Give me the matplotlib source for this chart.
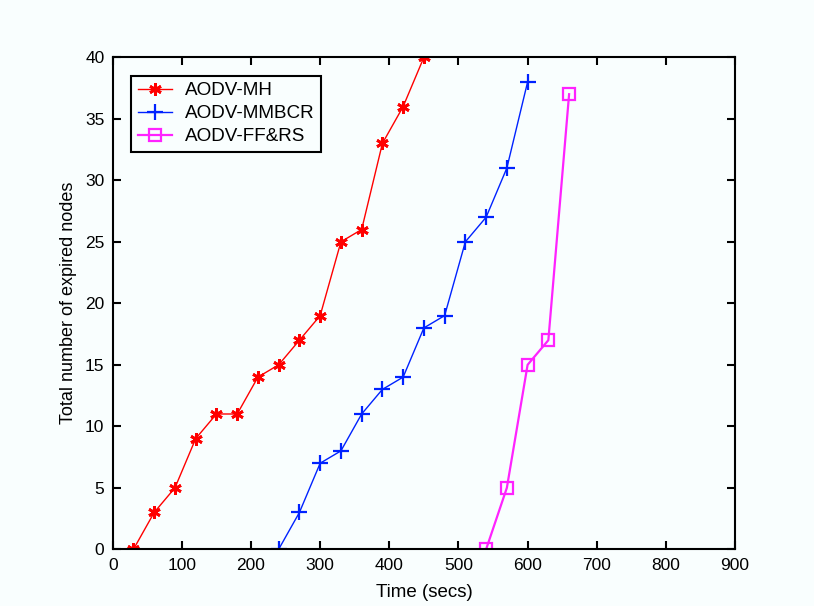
import matplotlib
matplotlib.use("Agg")
import matplotlib.pyplot as plt

# Data
mh_x = [30, 60, 90, 120, 150, 180, 210, 240, 270, 300, 330, 360, 390, 420, 450]
mh_y = [0, 3, 5, 9, 11, 11, 14, 15, 17, 19, 25, 26, 33, 36, 40]
mmbcr_x = [240, 270, 300, 330, 360, 390, 420, 450, 480, 510, 540, 570, 600]
mmbcr_y = [0, 3, 7, 8, 11, 13, 14, 18, 19, 25, 27, 31, 38]
ffrs_x = [540, 570, 600, 630, 660]
ffrs_y = [0, 5, 15, 17, 37]
labels = ["AODV-MH", "AODV-MMBCR", "AODV-FF&RS"]
x_ticks = [0, 100, 200, 300, 400, 500, 600, 700, 800, 900]
y_ticks = [0, 5, 10, 15, 20, 25, 30, 35, 40]

plt.rcParams['font.family'] = ['Liberation Sans', 'DejaVu Sans']
bg = '#f9fefe'
fig = plt.figure(figsize=(8.14, 6.06), dpi=100, facecolor=bg)
ax = fig.add_axes([0.1385, 0.0936, 0.7645, 0.8118], facecolor=bg)

asterisk = (6, 2, 0)
ax.plot(mh_x, mh_y, color='#ff0000', lw=1.0, marker=asterisk, ms=9, mew=2.0,
        label=labels[0])
ax.plot(mmbcr_x, mmbcr_y, color='#0022ff', lw=1.0, marker='+', ms=11, mew=1.6,
        label=labels[1])
ax.plot(ffrs_x, ffrs_y, color='#ff22ff', lw=1.6, marker='s', ms=8.5, mew=1.6,
        mfc='none', label=labels[2])

ax.set_xlim(0, 900)
ax.set_ylim(0, 40)
ax.set_xticks(x_ticks)
ax.set_yticks(y_ticks)
ax.tick_params(direction='in', length=6, width=1.5, top=True, right=True,
               labelsize=12.5, pad=6)
for s in ax.spines.values():
    s.set_linewidth(1.5)
ax.set_xlabel("Time (secs)", fontsize=13.5, labelpad=8)
ax.set_ylabel("Total number of expired nodes", fontsize=13, labelpad=6)

leg = ax.legend(loc='upper left', bbox_to_anchor=(0.03, 0.963), fontsize=13.6,
                fancybox=False, framealpha=1, edgecolor='black', facecolor=bg,
                handlelength=1.8, borderpad=0.35, labelspacing=0.3,
                handletextpad=0.7, borderaxespad=0)
leg.get_frame().set_linewidth(1.5)

fig.savefig("out.png", dpi=100, facecolor=bg)
